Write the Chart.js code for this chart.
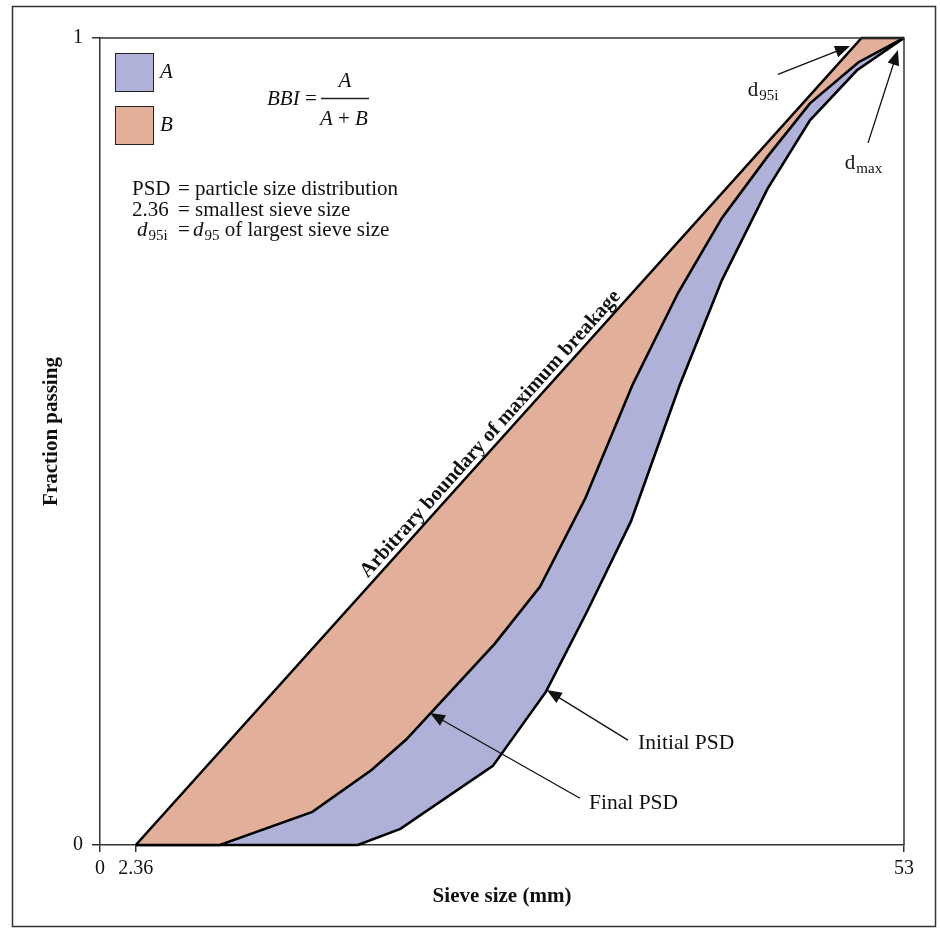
<!DOCTYPE html>
<html>
<head>
<meta charset="utf-8">
<title>Breakage index</title>
<script src="https://cdn.jsdelivr.net/npm/chart.js@4.4.1/dist/chart.umd.min.js"></script>
<style>
  html, body { margin: 0; padding: 0; background: #fff; }
  #wrap { width: 940px; height: 932px; }
</style>
</head>
<body>
<div id="wrap"><canvas id="bbiChart" width="940" height="932"></canvas></div>
<script>
// sieve size (mm) vs fraction passing
var boundaryX = [2.36, 50.2, 53];
var boundaryY = [0, 1, 1];

var finalX = [2.36, 7.9, 14.0, 17.9, 20.2, 26.0, 29.0, 32.0, 35.1, 38.1, 41.0, 44.0, 46.8, 50.0, 53];
var finalY = [0, 0, 0.041, 0.093, 0.131, 0.249, 0.320, 0.430, 0.570, 0.684, 0.777, 0.853, 0.919, 0.970, 1];

var initialX = [2.36, 17.0, 19.8, 25.9, 29.4, 32.1, 35.0, 38.2, 41.0, 44.0, 46.8, 49.9, 53];
var initialY = [0, 0, 0.020, 0.098, 0.190, 0.289, 0.401, 0.569, 0.700, 0.813, 0.898, 0.960, 1];

var xTicks = [0, 2.36, 53];
var yTicks = [0, 1];

var colA = '#afb1d9';
var colB = '#e2af9a';
var serif = '"Liberation Serif", "DejaVu Serif", serif';

function pts(xs, ys) {
  return xs.map(function (x, i) { return { x: x, y: ys[i] }; });
}

// callouts, in data units
var callouts = {
  initial: { tail: [34.8, 0.130], tip: [29.45, 0.192], text: [35.47, 0.126] },
  final:   { tail: [31.64, 0.058], tip: [21.75, 0.1635], text: [32.24, 0.052] },
  d95i:    { tail: [44.69, 0.955], tip: [49.44, 0.990], text: [42.7, 0.935] },
  dmax:    { tail: [50.63, 0.870], tip: [52.6, 0.985], text: [49.1, 0.845] }
};

function arrow(ctx, x0, y0, x1, y1) {
  var a = Math.atan2(y1 - y0, x1 - x0);
  var len = 15, half = 6;
  ctx.beginPath();
  ctx.moveTo(x0, y0);
  ctx.lineTo(x1 - Math.cos(a) * len * 0.8, y1 - Math.sin(a) * len * 0.8);
  ctx.stroke();
  ctx.beginPath();
  ctx.moveTo(x1, y1);
  ctx.lineTo(x1 - Math.cos(a) * len - Math.sin(a) * half, y1 - Math.sin(a) * len + Math.cos(a) * half);
  ctx.lineTo(x1 - Math.cos(a) * len + Math.sin(a) * half, y1 - Math.sin(a) * len - Math.cos(a) * half);
  ctx.closePath();
  ctx.fill();
}

// "d" with a subscript, returns the x after it
function dSub(ctx, x, y, sub, italic) {
  ctx.font = (italic ? 'italic ' : '') + '21px ' + serif;
  ctx.fillText('d', x, y);
  x += ctx.measureText('d').width + 1;
  ctx.font = '15px ' + serif;
  ctx.fillText(sub, x, y + 6);
  return x + ctx.measureText(sub).width;
}

var decor = {
  id: 'decor',
  beforeDraw: function (chart) {
    var ctx = chart.ctx;
    ctx.save();
    ctx.fillStyle = '#fff';
    ctx.fillRect(0, 0, chart.width, chart.height);
    ctx.strokeStyle = '#333';
    ctx.lineWidth = 1.5;
    ctx.strokeRect(12.5, 6.5, 923, 920);
    ctx.restore();
  },
  afterDraw: function (chart) {
    var ctx = chart.ctx, a = chart.chartArea;
    var xs = chart.scales.x, ys = chart.scales.y;
    function px(p) { return [xs.getPixelForValue(p[0]), ys.getPixelForValue(p[1])]; }

    ctx.save();

    // plot frame (top and right sides)
    ctx.lineWidth = 1.5;
    ctx.strokeStyle = '#333';
    ctx.beginPath();
    ctx.moveTo(a.left, a.top);
    ctx.lineTo(a.right, a.top);
    ctx.lineTo(a.right, a.bottom);
    ctx.stroke();

    // axis titles
    ctx.fillStyle = '#111';
    ctx.font = 'bold 21px ' + serif;
    ctx.textAlign = 'center';
    ctx.textBaseline = 'middle';
    ctx.fillText('Sieve size (mm)', (a.left + a.right) / 2, 897);
    ctx.save();
    ctx.translate(52, (a.top + a.bottom) / 2 - 10);
    ctx.rotate(-Math.PI / 2);
    ctx.fillText('Fraction passing', 0, 0);
    ctx.restore();

    // legend boxes
    ctx.lineWidth = 1;
    ctx.strokeStyle = '#222';
    ctx.fillStyle = colA;
    ctx.fillRect(a.left + 15, a.top + 15, 38, 38);
    ctx.strokeRect(a.left + 15.5, a.top + 15.5, 38, 38);
    ctx.fillStyle = colB;
    ctx.fillRect(a.left + 15, a.top + 68, 38, 38);
    ctx.strokeRect(a.left + 15.5, a.top + 68.5, 38, 38);
    ctx.fillStyle = '#111';
    ctx.textAlign = 'left';
    ctx.font = 'italic 21px ' + serif;
    ctx.fillText('A', a.left + 60, a.top + 34);
    ctx.fillText('B', a.left + 60, a.top + 87);

    // BBI formula
    ctx.font = 'italic 21px ' + serif;
    ctx.fillText('BBI', 267, 99);
    var w = ctx.measureText('BBI').width;
    ctx.font = '21px ' + serif;
    ctx.fillText(' =', 267 + w, 99);
    ctx.lineWidth = 1.3;
    ctx.beginPath();
    ctx.moveTo(321, 98.5);
    ctx.lineTo(369, 98.5);
    ctx.stroke();
    ctx.textAlign = 'center';
    ctx.font = 'italic 21px ' + serif;
    ctx.fillText('A', 345, 81);
    ctx.textAlign = 'left';
    ctx.fillText('A', 320, 119);
    ctx.font = '21px ' + serif;
    ctx.fillText('+', 338, 119);
    ctx.font = 'italic 21px ' + serif;
    ctx.fillText('B', 355, 119);

    // notes
    ctx.font = '21px ' + serif;
    ctx.fillText('PSD', 132, 189);
    ctx.fillText('= particle size distribution', 178, 189);
    ctx.fillText('2.36', 132, 210);
    ctx.fillText('= smallest sieve size', 178, 210);
    dSub(ctx, 137, 230, '95i', true);
    ctx.font = '21px ' + serif;
    ctx.fillText('=', 178, 230);
    var nx = dSub(ctx, 193, 230, '95', true);
    ctx.font = '21px ' + serif;
    ctx.fillText(' of largest sieve size', nx, 230);

    // boundary label along the line
    var p0 = px([boundaryX[0], boundaryY[0]]), p1 = px([boundaryX[1], boundaryY[1]]);
    var ang = Math.atan2(p1[1] - p0[1], p1[0] - p0[0]);
    ctx.save();
    ctx.translate((p0[0] + p1[0]) / 2, (p0[1] + p1[1]) / 2);
    ctx.rotate(ang);
    ctx.font = 'bold 20.5px ' + serif;
    ctx.textAlign = 'center';
    ctx.fillText('Arbitrary boundary of maximum breakage', 0, -11);
    ctx.restore();

    // callout arrows and labels
    ctx.strokeStyle = '#111';
    ctx.fillStyle = '#111';
    ctx.lineWidth = 1.3;
    Object.keys(callouts).forEach(function (k) {
      var c = callouts[k], t = px(c.tail), h = px(c.tip);
      arrow(ctx, t[0], t[1], h[0], h[1]);
    });
    ctx.textAlign = 'left';
    ctx.font = '21.5px ' + serif;
    var ti = px(callouts.initial.text);
    ctx.fillText('Initial PSD', ti[0], ti[1]);
    var tf = px(callouts.final.text);
    ctx.fillText('Final PSD', tf[0], tf[1]);
    var td = px(callouts.d95i.text);
    dSub(ctx, td[0], td[1], '95i', false);
    var tm = px(callouts.dmax.text);
    dSub(ctx, tm[0], tm[1], 'max', false);

    ctx.restore();
  }
};

var tickFont = { family: serif, size: 20 };

new Chart(document.getElementById('bbiChart'), {
  type: 'scatter',
  data: {
    datasets: [
      {
        label: 'Boundary',
        data: pts(boundaryX, boundaryY),
        showLine: true,
        borderColor: '#000',
        borderWidth: 2.6,
        pointRadius: 0,
        fill: false,
        clip: 6
      },
      {
        label: 'Final PSD',
        data: pts(finalX, finalY),
        showLine: true,
        borderColor: '#000',
        borderWidth: 2.6,
        backgroundColor: colB,
        pointRadius: 0,
        fill: 0,
        clip: 6
      },
      {
        label: 'Initial PSD',
        data: pts(initialX, initialY),
        showLine: true,
        borderColor: '#000',
        borderWidth: 2.6,
        backgroundColor: colA,
        pointRadius: 0,
        fill: 1,
        clip: 6
      }
    ]
  },
  options: {
    responsive: false,
    animation: false,
    devicePixelRatio: 1,
    layout: { padding: { top: 38, right: 36, left: 0, bottom: 0 } },
    plugins: {
      legend: { display: false },
      tooltip: { enabled: false }
    },
    scales: {
      x: {
        type: 'linear',
        min: 0,
        max: 53,
        afterBuildTicks: function (s) { s.ticks = xTicks.map(function (v) { return { value: v }; }); },
        afterFit: function (s) { s.height = 87; },
        grid: { drawOnChartArea: false, tickLength: 7, color: '#333', lineWidth: 1.5 },
        border: { color: '#333', width: 1.5 },
        ticks: {
          font: tickFont, color: '#111', padding: 5, maxRotation: 0, autoSkip: false,
          callback: function (v) { return String(v); }
        }
      },
      y: {
        min: 0,
        max: 1,
        afterBuildTicks: function (s) { s.ticks = yTicks.map(function (v) { return { value: v }; }); },
        afterFit: function (s) { s.width = 100; },
        grid: { drawOnChartArea: false, tickLength: 8, color: '#333', lineWidth: 1.5 },
        border: { color: '#333', width: 1.5 },
        ticks: {
          font: tickFont, color: '#111', padding: 9,
          callback: function (v) { return String(v); }
        }
      }
    }
  },
  plugins: [decor]
});
</script>
</body>
</html>
